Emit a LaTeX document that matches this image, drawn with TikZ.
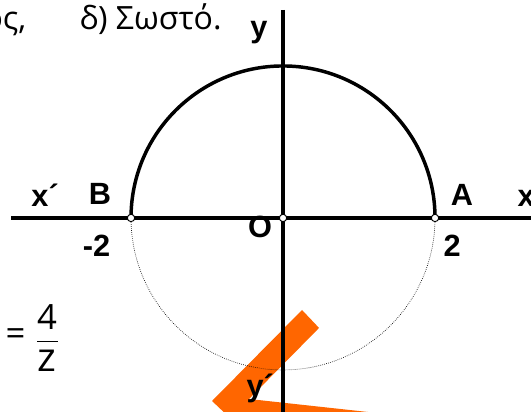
\documentclass[tikz,border=0pt]{standalone}
\usepackage{fontspec}
\setmainfont{Liberation Sans}
\newfontfamily\opensans{Open Sans}
\definecolor{naranja}{RGB}{255,102,0}

\begin{document}
\begin{tikzpicture}[x=2cm, y=2cm, line width=2.6pt]
  \tikzset{
    lbl/.style={font=\fontsize{23}{27}\selectfont\bfseries, inner sep=0pt, anchor=base},
    punto/.style={circle, draw, fill=white, line width=0.7pt, minimum size=5.5pt, inner sep=0pt},
    texto/.style={font=\opensans\fontsize{24}{28}\selectfont, inner sep=0pt, anchor=base west},
    ecu/.style={font=\opensans\fontsize{26}{30}\selectfont, inner sep=0pt}
  }
  \useasboundingbox (-3.724,-2.553) rectangle (3.263,2.868);
  \clip (-3.724,-2.553) rectangle (3.263,2.868);
  % marca naranja
  \fill[naranja] (0.25,-1.211) -- (0.474,-1.447) -- (-0.447,-2.382) -- (2.197,-2.671)
    -- (2.197,-2.987) -- (-0.671,-2.658) -- (-0.934,-2.408) -- cycle;
  % ejes
  \coordinate (xi) at (-3.579,0);  \coordinate (xd) at (3.4,0);
  \coordinate (ya) at (0,2.737);   \coordinate (yb) at (0,-2.7);
  \draw (xi) -- (xd);
  \draw (ya) -- (yb);
  % circunferencia
  \coordinate (O) at (0,0);  \coordinate (A) at (2,0);  \coordinate (B) at (-2,0);
  \draw[line width=0.5pt, densely dotted] (A) arc[start angle=0, end angle=-180, radius=2];
  \draw (A) arc[start angle=0, end angle=180, radius=2];
  \foreach \pt in {A,B,O}{\node[punto] (p\pt) at (\pt) {};}
  % etiquetas
  \node[lbl] (xp) at (-3.13,0.145) {x´};
  \node[lbl] (lB) at (-2.41,0.171) {B};
  \node[lbl] (lA) at (2.355,0.158) {A};
  \node[lbl] (xx) at (3.2,0.145) {x};
  \node[lbl] (menos2) at (-2.454,-0.513) {-2};
  \node[lbl] (mas2) at (2.224,-0.513) {2};
  \node[lbl] (lO) at (-0.303,-0.263) {O};
  \node[lbl] (yy) at (-0.316,2.37) {y};
  \node[lbl] (yp) at (-0.30,-2.355) {y´};
  % texto de arriba
  \node[texto, anchor=base east] (os) at (-3.355,2.474) {ος,};
  \node[texto] (delta) at (-2.70,2.474) {δ) Σωστό.};
  % fraccion
  \node[ecu] (igual) at (-3.52,-1.566) {=};
  \node[ecu] (cuatro) at (-3.105,-1.309) {4};
  \node[ecu, font=\opensans\fontsize{30}{34}\selectfont] (zeta) at (-3.105,-1.88) {z};
  \coordinate (f1) at (-3.237,-1.618);  \coordinate (f2) at (-2.96,-1.618);
  \draw[line width=0.6pt] (f1) -- (f2);
\end{tikzpicture}
\end{document}
